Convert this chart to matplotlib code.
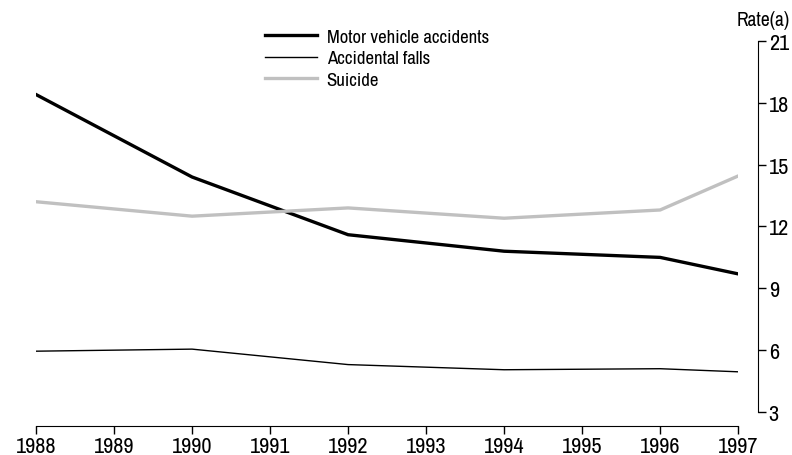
import matplotlib.pyplot as plt

years = [1988, 1990, 1992, 1994, 1996, 1997]
motor_vehicle = [18.4, 14.4, 11.6, 10.8, 10.5, 9.7]
accidental_falls = [5.95, 6.05, 5.3, 5.05, 5.1, 4.95]
suicide = [13.2, 12.5, 12.9, 12.4, 12.8, 14.45]
x_ticks = list(range(1988, 1998))
y_ticks = [3, 6, 9, 12, 15, 18, 21]

plt.rcParams["font.family"] = ["Archivo Narrow", "DejaVu Sans"]

fig = plt.figure(figsize=(7.92, 4.56), dpi=100)
ax = fig.add_axes([0.0455, 0.0943, 0.8865, 0.8137])

ax.plot(years, motor_vehicle, color="black", lw=2.4, label="Motor vehicle accidents")
ax.plot(years, accidental_falls, color="black", lw=1.0, label="Accidental falls")
ax.plot(years, suicide, color="#c0c0c0", lw=2.4, label="Suicide")

ax.set_xlim(1988, 1997)
ax.set_ylim(3, 21)
ax.set_xticks(x_ticks)
ax.set_yticks(y_ticks)

ax.spines["top"].set_visible(False)
ax.spines["left"].set_visible(False)
ax.spines["right"].set_position(("outward", 14))
ax.spines["bottom"].set_position(("outward", 10))
ax.yaxis.tick_right()
ax.tick_params(axis="both", labelsize=16, length=6, width=1, direction="out", pad=1)
ax.tick_params(axis="y", pad=2)

fig.text(0.997, 0.955, "Rate(a)", ha="right", va="center", fontsize=14)

ax.legend(loc="upper left", bbox_to_anchor=(0.315, 1.054), frameon=False,
          fontsize=13.5, handlelength=2.8, handletextpad=0.5, labelspacing=0.3,
          borderaxespad=0)

fig.savefig("out.png", dpi=100)
